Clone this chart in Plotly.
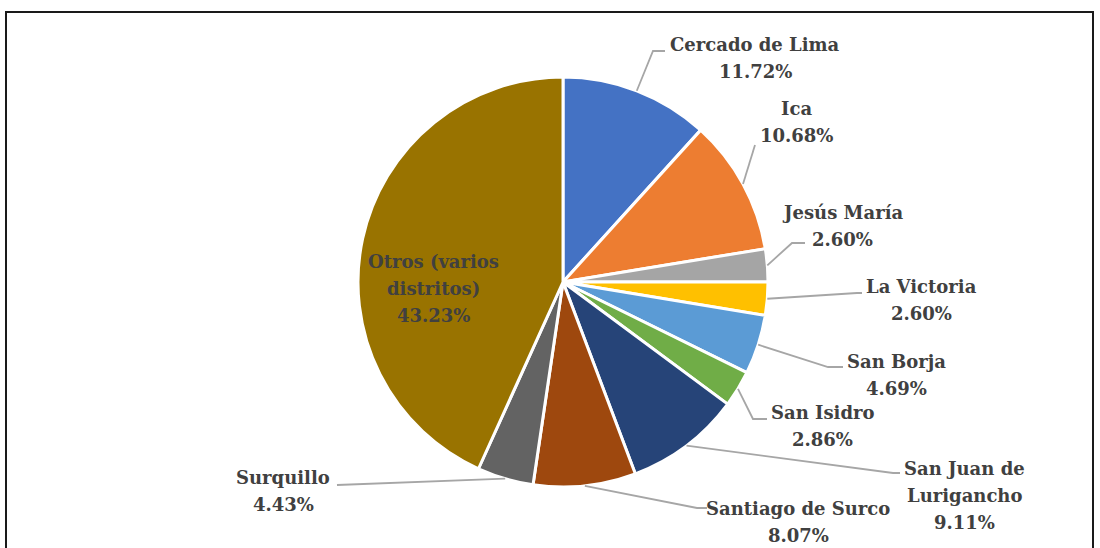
import math
import plotly.graph_objects as go

# ---- data ----
districts = ["Cercado de Lima", "Ica", "Jesús María", "La Victoria", "San Borja",
             "San Isidro", "San Juan de Lurigancho", "Santiago de Surco", "Surquillo",
             "Otros (varios distritos)"]
shares = [11.72, 10.68, 2.60, 2.60, 4.69, 2.86, 9.11, 8.07, 4.43, 43.23]
label_lines = [["Cercado de Lima"], ["Ica"], ["Jesús María"], ["La Victoria"], ["San Borja"],
               ["San Isidro"], ["San Juan de", "Lurigancho"], ["Santiago de Surco"], ["Surquillo"],
               ["Otros (varios", "distritos)"]]
colors = ["#4472C4", "#ED7D31", "#A5A5A5", "#FFC000", "#5B9BD5",
          "#70AD47", "#264478", "#9E480E", "#636363", "#997300"]

# ---- layout config (pixels in the reference picture) ----
W, H = 1100, 548
OFF = 0
CX, CY, R = 563, 282, 205
LINE_GAP = 27
# label block centers
label_pos = [(755, 58), (797, 122), (842, 226), (921, 300), (896, 375),
             (822, 426), (964, 495), (798, 522), (283, 491), (433, 288)]
# leader line elbow and end (None for inside label)
leader = [((653, 51), (665, 51)), ((755, 145), None), ((792, 243), (805, 243)),
          ((857, 293), (862, 293)), ((828, 367), (843, 367)), ((753, 419), (767, 419)),
          ((893, 473), (900, 473)), ((697, 508), (707, 508)), ((337, 485), None), None]


def px(x):
    return (x - OFF) / W


def py(y):
    return 1 - (y - OFF) / H


fig = go.Figure(go.Pie(
    labels=districts, values=shares, sort=False, direction="clockwise", rotation=0,
    marker=dict(colors=colors, line=dict(color="white", width=3)),
    textinfo="none", hoverinfo="label+percent", showlegend=False,
    domain=dict(x=[px(CX - R), px(CX + R)], y=[py(CY + R), py(CY - R)]),
))

font = dict(family="DejaVu Serif", size=18, color="#404040", weight="bold")
total = sum(shares)
cum = 0.0
shapes = []
annotations = []
for i, v in enumerate(shares):
    mid = (cum + v / 2) / total * 2 * math.pi
    cum += v
    sx, sy = CX + R * math.sin(mid), CY - R * math.cos(mid)
    lx, ly = label_pos[i]
    lines = label_lines[i] + [f"{v:.2f}%"]
    n = len(lines)
    for k, t in enumerate(lines):
        yk = ly + (k - (n - 1) / 2) * LINE_GAP
        annotations.append(dict(
            x=px(lx), y=py(yk), xref="paper", yref="paper", xanchor="center", yanchor="middle",
            text=t, showarrow=False, font=font, align="center"))
    if leader[i] is not None:
        (ex, ey), end = leader[i]
        path = f"M{px(sx)},{py(sy)} L{px(ex)},{py(ey)}"
        if end is not None:
            path += f" L{px(end[0])},{py(end[1])}"
        shapes.append(dict(type="path", xref="paper", yref="paper", path=path,
                           line=dict(color="#A6A6A6", width=1.8)))

# frame
shapes.append(dict(type="path", xref="paper", yref="paper",
                   path=f"M{px(6)},{py(570)} L{px(6)},{py(12)} L{px(1093)},{py(12)} L{px(1093)},{py(570)}",
                   line=dict(color="#1a1a1a", width=2)))

fig.update_layout(
    width=W, height=H, margin=dict(l=0, r=0, t=0, b=0),
    paper_bgcolor="white", plot_bgcolor="white",
    shapes=shapes, annotations=annotations,
)
fig.write_html("out.html", config={"displayModeBar": False},
               post_script="document.body.style.margin='0';document.body.style.overflow='hidden';")
